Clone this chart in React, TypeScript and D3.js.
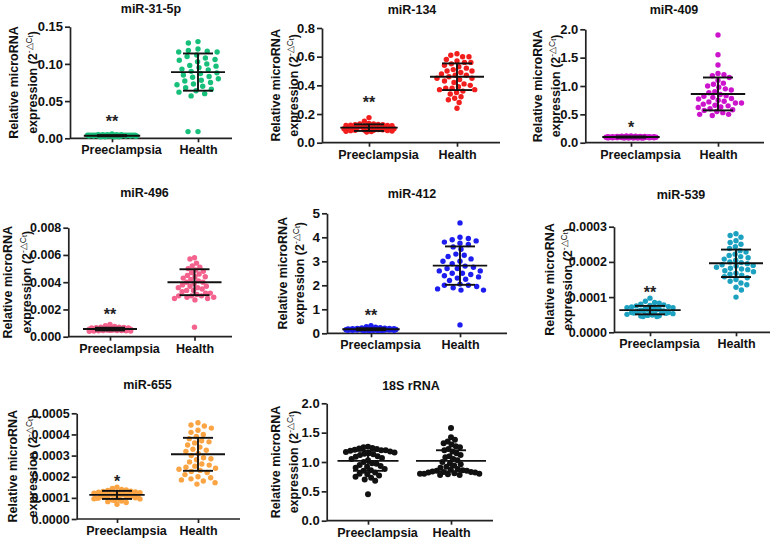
import { useEffect, useRef } from 'react';
import * as d3 from 'd3';

const GROUPS = ['Preeclampsia', 'Health'];
const TITLES = ['miR-31-5p', 'miR-134', 'miR-409', 'miR-496', 'miR-412', 'miR-539', 'miR-655', '18S rRNA'];
const COLORS = ['#17c07a', '#f21d1d', '#cc14cc', '#f4628e', '#1d1df0', '#1ca2c0', '#fba443', '#111111'];
const Y_TICKS = [
  [0, 0.05, 0.1, 0.15],
  [0, 0.2, 0.4, 0.6, 0.8],
  [0, 0.5, 1.0, 1.5, 2.0],
  [0, 0.002, 0.004, 0.006, 0.008],
  [0, 1, 2, 3, 4, 5],
  [0, 0.0001, 0.0002, 0.0003],
  [0, 0.0001, 0.0002, 0.0003, 0.0004, 0.0005],
  [0, 0.5, 1.0, 1.5, 2.0],
];
const TICK_FORMATS = ['.2f', '.1f', '.1f', '.3f', 'd', '.4f', '.4f', '.1f'];

// Preeclampsia group, one list per panel
const PRE_VALUES = [
  [0.006, 0.005, 0.005, 0.005, 0.005, 0.005, 0.004, 0.004, 0.004, 0.004, 0.004, 0.004, 0.004, 0.004, 0.004, 0.004, 0.004, 0.004, 0.004, 0.004, 0.004, 0.004, 0.003, 0.003, 0.003, 0.003, 0.003, 0.003, 0.003, 0.003, 0.003, 0.003, 0.003, 0.003, 0.003, 0.003, 0.002, 0.002, 0.002, 0.002],
  [0.175, 0.15, 0.135, 0.13, 0.13, 0.128, 0.125, 0.125, 0.122, 0.12, 0.12, 0.118, 0.115, 0.113, 0.11, 0.11, 0.108, 0.106, 0.105, 0.103, 0.102, 0.1, 0.1, 0.098, 0.097, 0.095, 0.094, 0.093, 0.092, 0.09, 0.09, 0.088, 0.087, 0.086, 0.085, 0.084, 0.082, 0.08, 0.078, 0.075],
  [0.12, 0.118, 0.115, 0.113, 0.112, 0.11, 0.11, 0.108, 0.107, 0.106, 0.105, 0.104, 0.103, 0.102, 0.101, 0.1, 0.1, 0.1, 0.099, 0.098, 0.097, 0.096, 0.095, 0.095, 0.094, 0.093, 0.092, 0.091, 0.09, 0.09, 0.089, 0.088, 0.087, 0.086, 0.085, 0.084, 0.083, 0.082, 0.081, 0.08],
  [0.0009, 0.0008, 0.00075, 0.0007, 0.0007, 0.00068, 0.00066, 0.00065, 0.00064, 0.00062, 0.0006, 0.0006, 0.00059, 0.00058, 0.00057, 0.00056, 0.00056, 0.00055, 0.00055, 0.00054, 0.00054, 0.00053, 0.00053, 0.00052, 0.00052, 0.00051, 0.0005, 0.0005, 0.00049, 0.00048, 0.00048, 0.00047, 0.00046, 0.00046, 0.00045, 0.00044, 0.00043, 0.00042, 0.00041, 0.0004],
  [0.32, 0.28, 0.25, 0.23, 0.22, 0.21, 0.2, 0.2, 0.19, 0.19, 0.18, 0.18, 0.18, 0.17, 0.17, 0.17, 0.17, 0.16, 0.16, 0.16, 0.16, 0.16, 0.15, 0.15, 0.15, 0.15, 0.15, 0.14, 0.14, 0.14, 0.14, 0.14, 0.13, 0.13, 0.13, 0.13, 0.12, 0.12, 0.12, 0.12],
  [0.000097, 0.000088, 0.000085, 0.000083, 0.00008, 0.000078, 0.000076, 0.000075, 0.000073, 0.000072, 0.00007, 0.00007, 0.000068, 0.000067, 0.000066, 0.000065, 0.000065, 0.000064, 0.000063, 0.000062, 0.000061, 0.00006, 0.00006, 0.000059, 0.000058, 0.000057, 0.000056, 0.000056, 0.000055, 0.000054, 0.000053, 0.000052, 0.000051, 0.00005, 0.000049, 0.000048, 0.000047, 0.000046, 0.000045, 0.000045],
  [0.00015, 0.000145, 0.00014, 0.000138, 0.000135, 0.000132, 0.00013, 0.000128, 0.000127, 0.000125, 0.000123, 0.000122, 0.00012, 0.000119, 0.000118, 0.000117, 0.000116, 0.000115, 0.000114, 0.000113, 0.000112, 0.00011, 0.000109, 0.000108, 0.000106, 0.000105, 0.000104, 0.000102, 0.0001, 0.000099, 0.000098, 0.000096, 0.000095, 0.000093, 0.00009, 0.000088, 0.000085, 0.000082, 0.000078, 0.00007],
  [1.26, 1.25, 1.24, 1.23, 1.22, 1.21, 1.2, 1.2, 1.19, 1.18, 1.17, 1.16, 1.15, 1.14, 1.13, 1.12, 1.1, 1.09, 1.07, 1.05, 1.03, 1.0, 0.98, 0.97, 0.95, 0.93, 0.92, 0.9, 0.88, 0.86, 0.85, 0.82, 0.8, 0.79, 0.77, 0.75, 0.73, 0.7, 0.68, 0.45],
];

// Health group, one list per panel
const HEALTH_VALUES = [
  [0.13, 0.128, 0.12, 0.118, 0.117, 0.116, 0.116, 0.112, 0.11, 0.108, 0.106, 0.105, 0.103, 0.1, 0.098, 0.097, 0.095, 0.093, 0.092, 0.09, 0.088, 0.087, 0.085, 0.083, 0.082, 0.08, 0.078, 0.077, 0.075, 0.073, 0.072, 0.07, 0.068, 0.066, 0.064, 0.062, 0.06, 0.057, 0.009, 0.009],
  [0.62, 0.61, 0.6, 0.6, 0.58, 0.57, 0.56, 0.56, 0.55, 0.54, 0.53, 0.52, 0.51, 0.5, 0.5, 0.49, 0.48, 0.47, 0.47, 0.46, 0.45, 0.45, 0.44, 0.43, 0.42, 0.41, 0.4, 0.39, 0.38, 0.38, 0.37, 0.37, 0.36, 0.35, 0.34, 0.32, 0.31, 0.3, 0.28, 0.24],
  [1.9, 1.55, 1.37, 1.22, 1.2, 1.18, 1.15, 1.1, 1.05, 1.03, 1.0, 0.98, 0.95, 0.93, 0.9, 0.88, 0.85, 0.83, 0.82, 0.8, 0.78, 0.77, 0.75, 0.73, 0.72, 0.7, 0.7, 0.68, 0.66, 0.65, 0.63, 0.62, 0.6, 0.58, 0.57, 0.55, 0.53, 0.5, 0.5, 0.48],
  [0.0058, 0.0057, 0.0054, 0.0052, 0.0051, 0.005, 0.0049, 0.0048, 0.0047, 0.0046, 0.0045, 0.0044, 0.0044, 0.0043, 0.0042, 0.0041, 0.004, 0.004, 0.0039, 0.0038, 0.0037, 0.0037, 0.0036, 0.0036, 0.0035, 0.0034, 0.0034, 0.0033, 0.0032, 0.0032, 0.0031, 0.003, 0.003, 0.003, 0.0029, 0.0029, 0.0028, 0.0028, 0.0027, 0.0007],
  [4.6, 4.0, 3.95, 3.9, 3.85, 3.8, 3.75, 3.7, 3.6, 3.5, 3.3, 3.25, 3.2, 3.1, 3.0, 3.0, 2.9, 2.8, 2.75, 2.7, 2.7, 2.6, 2.6, 2.5, 2.5, 2.45, 2.4, 2.35, 2.3, 2.25, 2.2, 2.05, 2.0, 2.0, 1.95, 1.9, 1.85, 1.8, 1.8, 0.35],
  [0.00028, 0.000275, 0.00027, 0.00026, 0.000255, 0.00025, 0.000243, 0.000238, 0.000232, 0.000228, 0.000222, 0.000218, 0.000215, 0.000212, 0.000208, 0.000205, 0.0002, 0.000198, 0.000195, 0.000192, 0.00019, 0.000188, 0.000185, 0.000182, 0.00018, 0.000178, 0.000175, 0.000172, 0.000168, 0.000165, 0.000162, 0.000158, 0.000155, 0.00015, 0.000145, 0.00014, 0.000135, 0.000128, 0.00012, 0.0001],
  [0.000455, 0.000445, 0.00044, 0.00043, 0.00042, 0.00041, 0.0004, 0.00039, 0.00038, 0.00037, 0.000365, 0.00036, 0.00035, 0.00034, 0.00033, 0.000325, 0.00032, 0.00031, 0.0003, 0.00029, 0.000285, 0.00028, 0.00027, 0.00026, 0.000255, 0.00025, 0.000245, 0.00024, 0.000235, 0.00023, 0.000225, 0.00022, 0.00021, 0.0002, 0.000195, 0.00019, 0.000185, 0.00018, 0.000172, 0.000165],
  [1.58, 1.42, 1.38, 1.35, 1.32, 1.3, 1.27, 1.25, 1.22, 1.2, 1.18, 1.15, 1.12, 1.1, 1.08, 1.05, 1.03, 1.0, 0.98, 0.96, 0.94, 0.92, 0.9, 0.88, 0.87, 0.86, 0.85, 0.85, 0.84, 0.83, 0.83, 0.82, 0.82, 0.81, 0.8, 0.8, 0.8, 0.79, 0.78, 0.78],
];

// mean and SD: [Preeclampsia, Health]
const MEANS = [
  [0.0035, 0.089], [0.105, 0.46], [0.1, 0.86], [0.00056, 0.004],
  [0.17, 2.82], [0.000063, 0.000196], [0.000114, 0.000306], [1.02, 1.02],
];
const SDS = [
  [0.0008, 0.025], [0.023, 0.093], [0.01, 0.29], [0.0001, 0.00095],
  [0.04, 0.8], [0.000012, 0.000039], [0.000019, 0.000078], [0.17, 0.18],
];
const STARS = ['**', '**', '*', '**', '**', '**', '*', ''];
const STAR_LEVELS = [0.027, 0.305, 0.33, 0.00189, 0.89, 0.000123, 0.000194, 0];

// panel geometry
const PANELS = [
  { ax: 70, top: 26.7, bot: 138.3, end: 232, c: [112, 198], tx: 151, ty: 13, cols: [13, 32], spread: [24.5, 21], r: 2.7, fs: 13 },
  { ax: 322, top: 28, bot: 142.7, end: 500, c: [369, 457], tx: 412, ty: 14, cols: [275, 293], spread: [25, 20], r: 2.7, fs: 13 },
  { ax: 585.3, top: 29.3, bot: 142.7, end: 764, c: [631, 718], tx: 674, ty: 14, cols: [537, 555], spread: [25, 23.5], r: 2.7, fs: 13 },
  { ax: 68.3, top: 227.7, bot: 336.7, end: 232, c: [110, 194.5], tx: 144.5, ty: 196.5, cols: [7, 26], spread: [22.5, 20], r: 2.7, fs: 12.5 },
  { ax: 327, top: 213.3, bot: 333.3, end: 507, c: [371, 460], tx: 412, ty: 198, cols: [282, 299], spread: [25, 23.5], r: 2.7, fs: 13.5 },
  { ax: 614, top: 226.7, bot: 332.3, end: 770, c: [650, 736], tx: 681, ty: 199, cols: [549, 567], spread: [27, 19.5], r: 2.7, fs: 12.5 },
  { ax: 76.7, top: 413.3, bot: 519, end: 240, c: [117, 198], tx: 147.5, ty: 389, cols: [12, 32], spread: [24, 19], r: 2.7, fs: 12.5 },
  { ax: 326.7, top: 403.3, bot: 520.7, end: 493, c: [368, 451], tx: 411, ty: 390, cols: [275, 293], spread: [26.5, 31], r: 3, fs: 13 },
];

const FONT = "'Liberation Sans', Arial, Helvetica, sans-serif";

function swarm(ys: number[], D: number): number[] {
  const order = d3.range(ys.length).sort((a, b) => ys[a] - ys[b]);
  const placed: { x: number; y: number }[] = [];
  const xs = new Array(ys.length).fill(0);
  order.forEach((i, k) => {
    const y = ys[i];
    const cands = [0];
    placed.forEach((p) => {
      const dy = Math.abs(p.y - y);
      if (dy < D) {
        const dx = Math.sqrt(D * D - dy * dy);
        cands.push(p.x + dx, p.x - dx);
      }
    });
    cands.sort((a, b) => Math.abs(a) - Math.abs(b) || (k % 2 ? a - b : b - a));
    let x = 0;
    for (const c of cands) {
      if (placed.every((p) => (p.x - c) ** 2 + (p.y - y) ** 2 >= D * D - 1e-6)) { x = c; break; }
    }
    placed.push({ x, y });
    xs[i] = x;
  });
  return xs;
}

// fit swarm offsets into the group's half width; very flat rows fold back onto a few slots
function fit(raw: number[], spread: number, D: number): number[] {
  const m = d3.max(raw, (v) => Math.abs(v)) || 1;
  const k = spread / m;
  if (k >= 0.55) return raw.map((v) => v * k);
  const step = 4.6;
  const slots = Math.floor(spread / step);
  return raw.map((v, i) => {
    const s = Math.round(Math.abs(v) / D);
    const pos = (s % (slots + 1)) * step + (Math.floor(s / (slots + 1)) % 2) * step * 0.5;
    return Math.sign(v || (i % 2 ? 1 : -1)) * Math.min(pos, spread);
  });
}

export default function App() {
  const svgRef = useRef<SVGSVGElement>(null);

  useEffect(() => {
    const el = svgRef.current;
    if (!el) return;
    const svg = d3.select(el);
    svg.selectAll('*').remove();

    PANELS.forEach((p, pi) => {
      const ticks = Y_TICKS[pi];
      const y = d3.scaleLinear().domain([0, ticks[ticks.length - 1]]).range([p.bot, p.top]);
      const x = d3.scalePoint<string>().domain(GROUPS).range(p.c);
      const g = svg.append('g');

      // title
      g.append('text')
        .attr('x', p.tx).attr('y', p.ty)
        .attr('text-anchor', 'middle')
        .attr('font-size', 12.5).attr('font-weight', 700).attr('font-family', FONT)
        .attr('fill', '#111')
        .text(TITLES[pi]);

      // y axis
      const yAxis = g.append('g')
        .attr('transform', `translate(${p.ax},0)`)
        .call(d3.axisLeft(y).tickValues(ticks).tickFormat(d3.format(TICK_FORMATS[pi]) as any).tickSize(5).tickSizeOuter(0).tickPadding(2));
      yAxis.select('.domain').attr('stroke', '#222').attr('stroke-width', 1.7);
      yAxis.selectAll('.tick line').attr('stroke', '#222').attr('stroke-width', 1.7);
      yAxis.selectAll('text')
        .attr('font-size', p.fs).attr('font-weight', 700).attr('font-family', FONT).attr('fill', '#111');

      // x axis
      g.append('line')
        .attr('x1', p.ax).attr('x2', p.end).attr('y1', p.bot).attr('y2', p.bot)
        .attr('stroke', '#222').attr('stroke-width', 1.7);
      const xAxis = g.append('g')
        .attr('transform', `translate(0,${p.bot})`)
        .call(d3.axisBottom(x).tickSize(4).tickPadding(3));
      xAxis.select('.domain').remove();
      xAxis.selectAll('.tick line').attr('stroke', '#222').attr('stroke-width', 1.7);
      xAxis.selectAll('text')
        .attr('font-size', 12.5).attr('font-weight', 700).attr('font-family', FONT).attr('fill', '#111')
        .attr('dx', (d: any) => (d === 'Preeclampsia' ? 9 : 0));

      // y label (two rotated lines)
      const midY = (p.top + p.bot) / 2;
      g.append('text')
        .attr('transform', `translate(${p.cols[0] + 4.5},${midY}) rotate(-90)`)
        .attr('text-anchor', 'middle')
        .attr('font-size', 12.5).attr('font-weight', 700).attr('font-family', FONT).attr('fill', '#111')
        .text('Relative microRNA');
      const l2 = g.append('text')
        .attr('transform', `translate(${p.cols[1] + 4.5},${midY}) rotate(-90)`)
        .attr('text-anchor', 'middle')
        .attr('font-size', 12.5).attr('font-weight', 700).attr('font-family', FONT).attr('fill', '#111');
      l2.append('tspan').text('expression (2');
      l2.append('tspan').attr('font-size', 8.5).attr('font-weight', 400).attr('dy', -5).text('-\u25B3C');
      l2.append('tspan').attr('font-size', 7).attr('font-weight', 400).attr('dy', 1.5).text('t');
      l2.append('tspan').attr('dy', 3.5).text(')');

      // dots + mean/SD per group
      [PRE_VALUES[pi], HEALTH_VALUES[pi]].forEach((vals, gi) => {
        const cx = x(GROUPS[gi]) as number;
        const ys = vals.map((v) => y(v));
        const D = 2 * p.r + 0.6;
        const offs = fit(swarm(ys, D), p.spread[gi], D);
        g.append('g').selectAll('circle')
          .data(vals)
          .join('circle')
          .attr('cx', (_, i) => cx + offs[i])
          .attr('cy', (_, i) => ys[i])
          .attr('r', p.r)
          .attr('fill', COLORS[pi]);

        const mean = MEANS[pi][gi];
        const sd = SDS[pi][gi];
        const half = Math.max(27, p.spread[gi] + p.r + 1);
        const cap = 15;
        const lines = [
          [cx - half, y(mean), cx + half, y(mean)],
          [cx, y(mean - sd), cx, y(mean + sd)],
          [cx - cap, y(mean + sd), cx + cap, y(mean + sd)],
          [cx - cap, y(mean - sd), cx + cap, y(mean - sd)],
        ];
        g.append('g').selectAll('line')
          .data(lines)
          .join('line')
          .attr('x1', (d) => d[0]).attr('y1', (d) => d[1])
          .attr('x2', (d) => d[2]).attr('y2', (d) => d[3])
          .attr('stroke', '#111').attr('stroke-width', 1.9);
      });

      // significance marks
      if (STARS[pi]) {
        g.append('text')
          .attr('x', x(GROUPS[0]) as number)
          .attr('y', y(STAR_LEVELS[pi]) + 9)
          .attr('text-anchor', 'middle')
          .attr('font-size', 16).attr('font-weight', 700).attr('font-family', FONT).attr('fill', '#222')
          .text(STARS[pi]);
      }
    });
  }, []);

  return (
    <div style={{ position: 'absolute', left: 0, top: 0, width: 777, height: 539, background: '#fff' }}>
      <svg ref={svgRef} width={777} height={539} style={{ display: 'block' }} />
    </div>
  );
}
